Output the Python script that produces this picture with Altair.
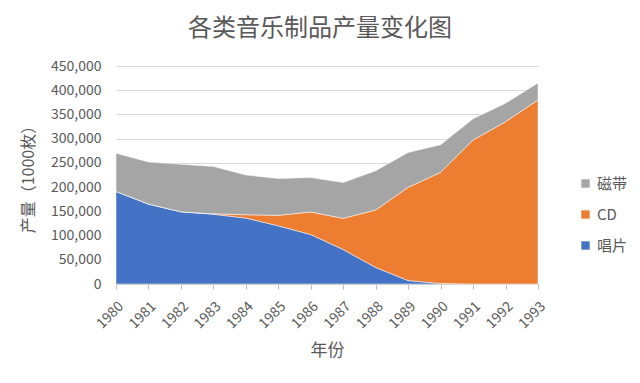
import altair as alt
import pandas as pd

years = list(range(1980, 1994))
records = [191000, 165000, 149000, 144000, 136000, 120000, 102000, 71000, 34000, 7000, 1000, 0, 0, 0]
cds = [0, 0, 0, 800, 7000, 21700, 46600, 64500, 118700, 192500, 229400, 297000, 335000, 380000]
tapes = [79000, 87000, 98000, 98000, 82000, 76000, 71000, 74000, 81000, 72000, 57000, 44000, 38000, 35000]

series = ["唱片", "CD", "磁带"]
colors = {"唱片": "#4472C4", "CD": "#ED7D31", "磁带": "#A5A5A5"}

rows = []
for i, y in enumerate(years):
    rows.append({"年份": y, "类别": "唱片", "产量": records[i], "o": 0})
    rows.append({"年份": y, "类别": "CD", "产量": cds[i], "o": 1})
    rows.append({"年份": y, "类别": "磁带", "产量": tapes[i], "o": 2})
df = pd.DataFrame(rows)

FONT = "Noto Sans CJK SC"
GREY = "#595959"

chart = alt.Chart(df).mark_area(stroke="white", strokeWidth=0.5, opacity=1).encode(
    x=alt.X("年份:Q", scale=alt.Scale(domain=[1980, 1993], nice=False, zero=False),
            axis=alt.Axis(values=years, format="d", labelAngle=-45, grid=False,
                          domainColor="#BFBFBF", tickColor="#BFBFBF", tickSize=5,
                          labelFontSize=14, labelColor=GREY, labelFont=FONT, labelPadding=10,
                          title="年份", titleFontSize=17, titleColor=GREY, titleFont=FONT,
                          titleFontWeight="normal", titleY=66, titleX=211,
                          titleBaseline="middle")),
    y=alt.Y("产量:Q", stack="zero", scale=alt.Scale(domain=[0, 450000]),
            axis=alt.Axis(values=list(range(0, 450001, 50000)), format=",d", domain=False, ticks=False,
                          gridColor="#D9D9D9", labelFontSize=14, labelColor=GREY, labelFont=FONT,
                          labelPadding=15,
                          title="产量（1000枚）", titleFontSize=16, titleColor=GREY, titleFont=FONT,
                          titleFontWeight="normal", titleAngle=-90, titleX=-88, titleY=109,
                          titleAlign="center", titleBaseline="middle")),
    color=alt.Color("类别:N", scale=alt.Scale(domain=["磁带", "CD", "唱片"],
                                              range=[colors["磁带"], colors["CD"], colors["唱片"]]),
                    legend=alt.Legend(title=None, orient="none", legendX=462, legendY=110,
                                      symbolType="square", symbolSize=70, labelFontSize=15,
                                      labelColor=GREY, labelFont=FONT, rowPadding=15,
                                      symbolStrokeWidth=0)),
    order=alt.Order("o:Q"),
).properties(
    width=422, height=218,
    padding={"left": 108, "top": 58, "right": 94, "bottom": 83},
    autosize=alt.AutoSizeParams(type="none"),
    title=alt.TitleParams("各类音乐制品产量变化图", fontSize=24, color=GREY, font=FONT,
                          fontWeight="normal", anchor="middle", offset=18, dx=-7),
).configure_view(stroke=None)

chart.save("out.html", embed_options={"renderer": "svg", "actions": False})
